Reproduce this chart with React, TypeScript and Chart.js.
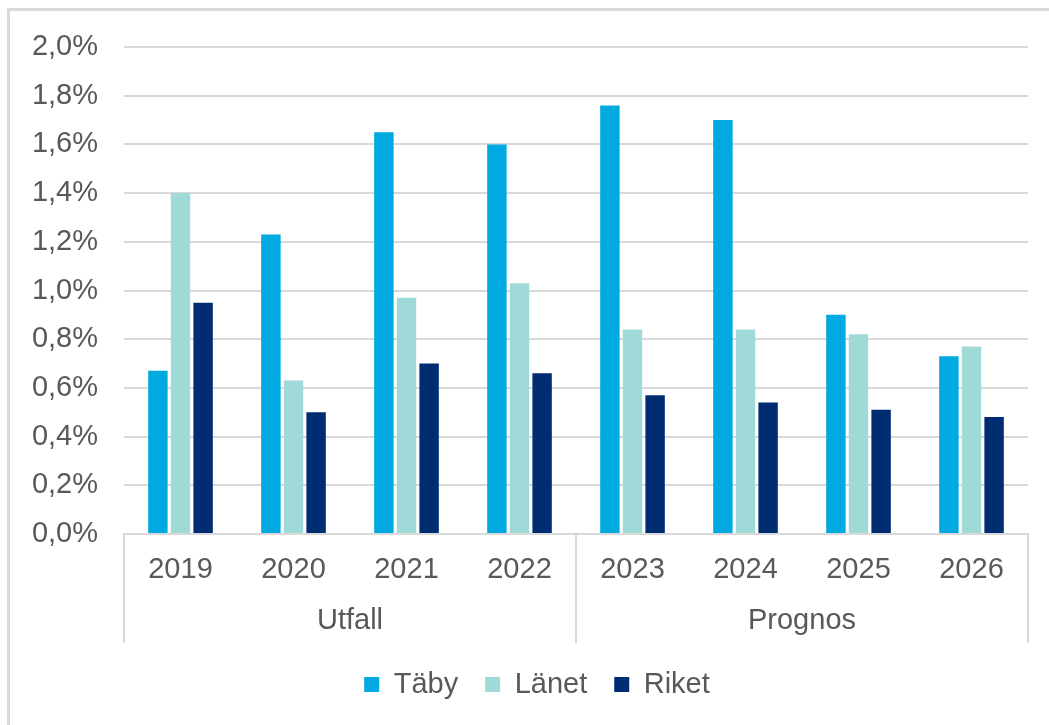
import React, { useEffect, useRef } from 'react';
import { Chart, registerables } from 'chart.js';

Chart.register(...registerables);

const years = ['2019', '2020', '2021', '2022', '2023', '2024', '2025', '2026'];
const groupLabels = ['Utfall', 'Prognos'];
const groupSizes = [4, 4];
const seriesNames = ['Täby', 'Länet', 'Riket'];
const taby = [0.67, 1.23, 1.65, 1.6, 1.76, 1.7, 0.9, 0.73];
const lanet = [1.4, 0.63, 0.97, 1.03, 0.84, 0.84, 0.82, 0.77];
const riket = [0.95, 0.5, 0.7, 0.66, 0.57, 0.54, 0.51, 0.48];
const seriesColors = ['#00A9E0', '#A0DAD8', '#002D72'];

const FONT = '"Liberation Sans", Arial, sans-serif';
const TEXT = '#595959';
const GRID = '#d9d9d9';

const groupPlugin = {
  id: 'groupLabels',
  afterLayout(chart: any) {
    // centre the legend on the same span Excel uses (slightly right of canvas centre)
    if (chart.legend) {
      chart.legend.left = 46;
    }
  },
  afterDraw(chart: any) {
    const x = chart.scales.x;
    const area = chart.chartArea;
    const ctx = chart.ctx;
    ctx.save();
    ctx.strokeStyle = GRID;
    ctx.lineWidth = 2;
    const bounds: number[] = [x.left];
    let idx = 0;
    groupSizes.forEach((n) => {
      idx += n;
      if (idx < years.length) {
        bounds.push((x.getPixelForValue(idx - 1) + x.getPixelForValue(idx)) / 2);
      } else {
        bounds.push(x.right);
      }
    });
    bounds.forEach((bx) => {
      ctx.beginPath();
      ctx.moveTo(bx, area.bottom);
      ctx.lineTo(bx, x.bottom);
      ctx.stroke();
    });
    ctx.fillStyle = TEXT;
    ctx.font = `29px ${FONT}`;
    ctx.textAlign = 'center';
    ctx.textBaseline = 'middle';
    groupLabels.forEach((g, i) => {
      const cx = (bounds[i] + bounds[i + 1]) / 2;
      ctx.fillText(g, cx, x.bottom - 22);
    });
    ctx.restore();
  },
};

function App() {
  const ref = useRef<HTMLCanvasElement | null>(null);
  useEffect(() => {
    if (!ref.current) return;
    const chart = new Chart(ref.current, {
      type: 'bar',
      data: {
        labels: years,
        datasets: [taby, lanet, riket].map((d, i) => ({
          label: seriesNames[i],
          data: d,
          backgroundColor: seriesColors[i],
          borderWidth: 0,
          categoryPercentage: 0.6,
          barPercentage: 0.86,
        })),
      },
      options: {
        animation: false,
        responsive: true,
        maintainAspectRatio: false,
        layout: { padding: { left: 0, right: 21, top: 47, bottom: 16 } },
        plugins: {
          tooltip: { enabled: false },
          legend: {
            position: 'bottom',
            labels: {
              boxWidth: 15,
              boxHeight: 15,
              padding: 27,
              color: TEXT,
              font: { family: FONT, size: 29, lineHeight: 1.0 },
            },
          },
        },
        scales: {
          x: {
            grid: { display: false, drawTicks: false },
            border: { display: true, color: GRID, width: 2 },
            ticks: { color: TEXT, padding: 19, font: { family: FONT, size: 29 }, maxRotation: 0 },
            afterFit(scale: any) {
              scale.height = 109;
              scale.paddingLeft = 0;
              scale.paddingRight = 0;
            },
          },
          y: {
            min: 0,
            max: 2,
            grid: { color: GRID, lineWidth: 2, drawTicks: false },
            border: { display: false },
            ticks: {
              stepSize: 0.2,
              color: TEXT,
              padding: 26,
              font: { family: FONT, size: 29 },
              callback: (v: any) => Number(v).toFixed(1).replace('.', ',') + '%',
            },
            afterFit(scale: any) {
              scale.width = 124;
              scale.paddingTop = 0;
              scale.paddingBottom = 0;
            },
          },
        },
      },
      plugins: [groupPlugin],
    } as any);
    return () => chart.destroy();
  }, []);

  return (
    <div style={{ position: 'fixed', left: 0, top: 0, width: 1049, height: 725, overflow: 'hidden', background: '#fff' }}>
      <div
        style={{
          position: 'absolute',
          left: 7,
          top: 8,
          width: 1100,
          height: 800,
          borderTop: `3px solid ${GRID}`,
          borderLeft: `3px solid ${GRID}`,
        }}
      />
      <div style={{ position: 'absolute', left: 0, top: 0, width: 1049, height: 725 }}>
        <canvas ref={ref} />
      </div>
    </div>
  );
}

export default App;
